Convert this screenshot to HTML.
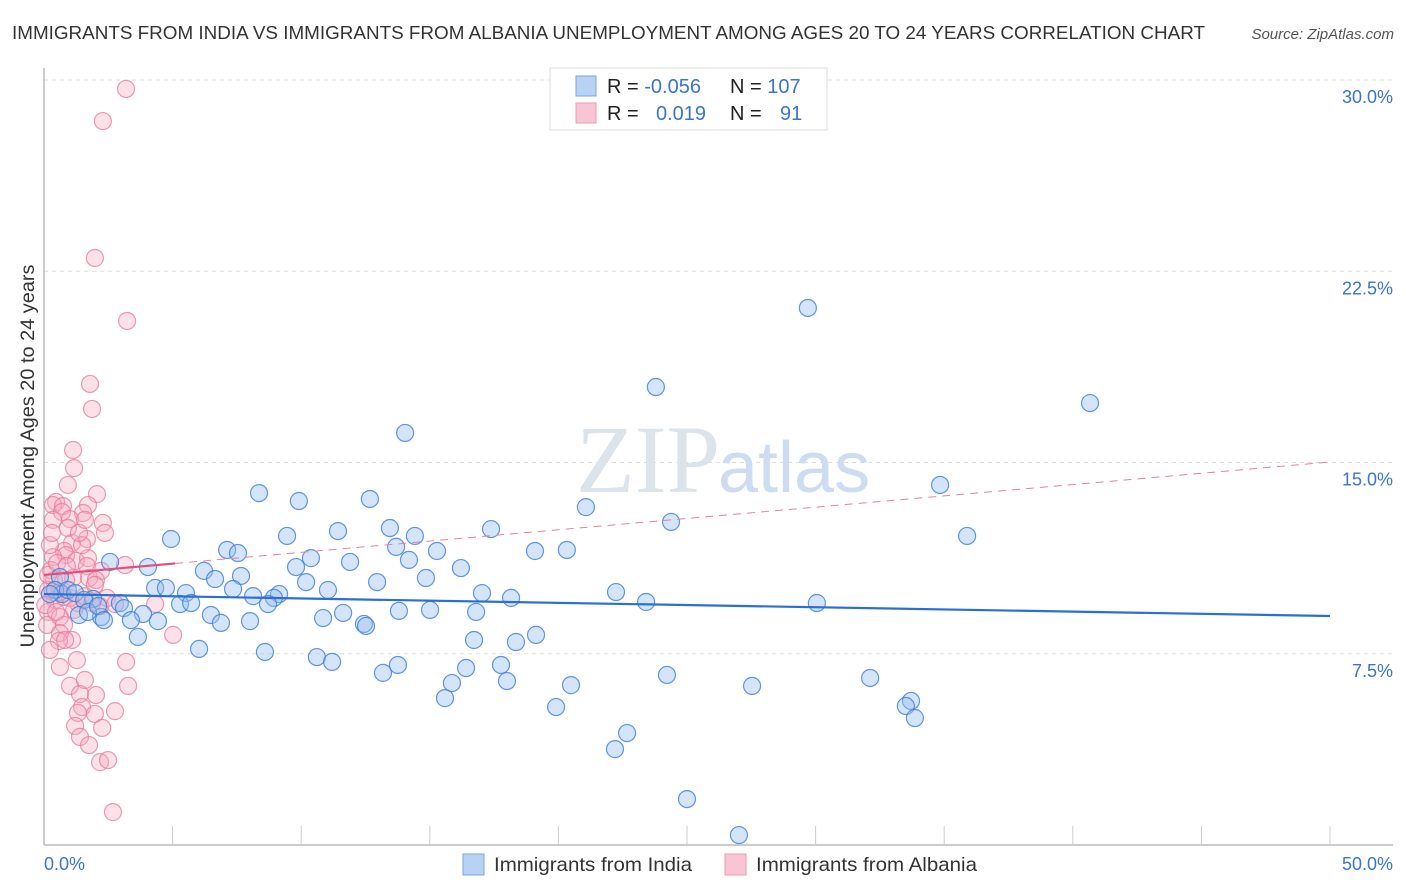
<!DOCTYPE html>
<html><head><meta charset="utf-8">
<style>
body{margin:0;background:#fff;font-family:"Liberation Sans",sans-serif;}
#wrap{position:relative;width:1406px;height:892px;overflow:hidden;}
</style></head>
<body>
<div id="wrap">
<svg id="svg" width="1406" height="892" xmlns="http://www.w3.org/2000/svg">
<text x="12" y="39" font-size="18.5" fill="#333" textLength="1193" lengthAdjust="spacingAndGlyphs">IMMIGRANTS FROM INDIA VS IMMIGRANTS FROM ALBANIA UNEMPLOYMENT AMONG AGES 20 TO 24 YEARS CORRELATION CHART</text>
<text x="1394" y="39" font-size="15" fill="#555" font-style="italic" text-anchor="end">Source: ZipAtlas.com</text>
<text x="34" y="456" font-size="19" fill="#333" text-anchor="middle" textLength="383" lengthAdjust="spacingAndGlyphs" transform="rotate(-90 34 456)">Unemployment Among Ages 20 to 24 years</text>
<g id="grid"></g>
<text x="720" y="492" font-size="96" fill="#dde3ea" text-anchor="end" font-family="Liberation Serif, serif">ZIP</text>
<text x="718" y="492" font-size="72" fill="#cddcf0">atlas</text>
<g id="axes"></g>
<g id="pinkPts"></g>
<g id="bluePts"></g>
<g id="trends"></g>
<g>
<rect x="550" y="68" width="277" height="62" fill="#fff" stroke="#ddd"/>
<rect x="576" y="76" width="20" height="20" fill="#b8d2f4" stroke="#7aa6e0"/>
<rect x="576" y="103" width="20" height="20" fill="#f9c4d3" stroke="#ec9bb3"/>
<text x="607" y="93" font-size="20" fill="#222">R = <tspan fill="#3a74cf">-0.056</tspan></text>
<text x="730" y="93" font-size="20" fill="#222">N = <tspan fill="#3a74cf">107</tspan></text>
<text x="607" y="120" font-size="20" fill="#222">R = <tspan fill="#3a74cf" x="656">0.019</tspan></text>
<text x="730" y="120" font-size="20" fill="#222">N = <tspan fill="#3a74cf" x="780">91</tspan></text>
</g>
<g>
<rect x="463" y="854" width="21" height="21" fill="#b8d2f4" stroke="#7aa6e0"/>
<text x="494" y="871" font-size="19.5" fill="#333" textLength="198" lengthAdjust="spacingAndGlyphs">Immigrants from India</text>
<rect x="725" y="854" width="21" height="21" fill="#f9c4d3" stroke="#ec9bb3"/>
<text x="756" y="871" font-size="19.5" fill="#333" textLength="221" lengthAdjust="spacingAndGlyphs">Immigrants from Albania</text>
</g>
</svg>
</div>
<script>
const xTicksLabels = ["0.0%", "50.0%"];
const yTickValues = [7.5, 15, 22.5, 30];
const yTickLabels = ["7.5%", "15.0%", "22.5%", "30.0%"];
const indiaX = [29.70,23.79,40.67,14.04,34.84,8.36,9.91,12.67,21.07,24.38,17.38,11.43,13.45,35.89,4.94,9.45,14.42,7.12,7.54,13.69,15.28,19.09,20.33,10.38,14.19,11.90,16.21,6.22,4.04,2.57,9.80,7.66,6.65,14.85,12.95,10.19,4.32,4.74,7.35,11.04,22.24,17.03,18.16,8.13,9.14,8.94,5.52,23.41,30.05,2.95,5.29,5.72,1.91,3.11,3.85,6.49,8.71,11.63,15.01,16.80,13.80,2.22,3.38,4.43,6.88,8.01,10.85,12.44,12.52,19.13,16.72,18.35,3.65,6.03,8.59,10.61,11.20,13.76,13.18,17.77,16.41,18.00,24.22,32.12,27.53,20.49,15.86,15.59,19.91,33.71,33.51,33.86,22.67,22.20,25.00,27.02,0.62,0.70,0.43,0.93,1.21,1.56,1.36,1.71,2.10,2.33,0.23];
const indiaY = [21.06,17.96,17.33,16.16,14.12,13.80,13.49,13.57,13.25,12.67,12.39,12.31,12.43,12.12,12.00,12.12,12.12,11.57,11.45,11.69,11.53,11.53,11.57,11.25,11.18,11.10,10.86,10.75,10.90,11.10,10.90,10.55,10.43,10.47,10.31,10.31,10.08,10.08,10.04,10.00,9.92,9.88,9.69,9.76,9.84,9.69,9.88,9.53,9.49,9.49,9.45,9.49,9.65,9.29,9.06,9.02,9.45,9.10,9.22,9.14,9.18,8.94,8.82,8.78,8.71,8.78,8.90,8.67,8.59,8.24,8.04,7.96,8.16,7.69,7.57,7.37,7.18,7.06,6.75,7.06,6.94,6.43,6.67,6.55,6.24,6.27,6.35,5.76,5.41,5.65,5.45,4.98,4.39,3.76,1.80,0.39,10.51,9.84,10.00,10.00,9.88,9.61,9.02,9.14,9.37,8.82,9.84];
const albaniaX = [3.19,2.29,1.98,3.23,1.79,1.87,1.13,1.17,0.93,2.06,0.47,0.35,0.74,1.71,1.52,0.70,1.01,2.29,2.37,0.35,0.93,1.09,1.67,0.78,0.86,1.24,1.71,0.35,1.67,2.22,0.27,0.39,1.13,1.75,2.02,3.15,0.16,0.43,0.78,1.32,1.87,2.18,4.32,0.16,0.62,0.78,0.62,1.09,5.02,0.58,0.16,0.23,0.35,0.62,3.19,1.01,1.59,1.40,2.02,3.27,1.48,1.32,1.98,2.76,1.21,2.26,1.40,1.75,2.18,2.49,2.68,1.48,0.51,0.86,1.59,0.05,0.12,0.47,1.01,0.62,0.89,1.36,1.59,0.31,1.98,1.17,2.45,2.76,0.23,1.28,0.82];
const albaniaY = [29.65,28.39,23.02,20.55,18.08,17.10,15.49,14.78,14.12,13.76,13.45,13.33,13.29,13.33,13.02,13.06,12.78,12.63,12.24,12.75,12.43,11.84,12.00,11.53,11.37,11.14,11.25,11.29,10.94,10.75,10.78,10.39,10.47,10.47,10.39,10.98,10.00,9.61,9.73,9.49,9.49,9.37,9.45,9.14,8.94,8.63,8.31,8.04,8.24,8.00,10.59,11.76,9.92,6.98,7.18,6.24,6.47,5.92,5.88,6.24,5.41,5.18,5.14,5.25,4.67,4.59,4.24,3.92,3.25,3.33,1.29,11.76,11.06,10.39,9.76,9.41,8.63,9.14,9.69,9.92,10.94,12.24,12.75,12.24,10.20,9.22,9.69,9.45,7.65,7.25,8.04];
const indiaTrend = [9.84, 8.98];
const albaniaTrend = [10.59, 15.02];
const albaniaSolidEnd = 5.1;

const X0=44, X1=1330, Y0=845, PXPER=25.5;
const sx = v => X0 + v*(X1-X0)/50;
const sy = v => Y0 - v*PXPER;
const NS="http://www.w3.org/2000/svg";
function mk(tag, attrs, parent){const e=document.createElementNS(NS,tag);for(const k in attrs)e.setAttribute(k,attrs[k]);parent.appendChild(e);return e;}

const grid=document.getElementById('grid');
yTickValues.forEach((v,i)=>{
  const l=mk('line',{x1:X0,x2:1393,y1:sy(v),y2:sy(v),stroke:'#ddd','stroke-dasharray':'4,4'},grid);
  
  
  const t=mk('text',{x:1393,y:sy(v)+23,'font-size':18,fill:'#3a74cf','text-anchor':'end'},grid);
  t.textContent=yTickLabels[i];
  
  
});
const axes=document.getElementById('axes');
let a=mk('line',{x1:X0,x2:X0,y1:68,y2:Y0,stroke:'#bbb','stroke-width':1.5},axes);


a=mk('line',{x1:X0,x2:1393,y1:Y0,y2:Y0,stroke:'#bbb','stroke-width':1.5},axes);


for(let i=1;i<=10;i++){
  const t=mk('line',{x1:sx(i*5),x2:sx(i*5),y1:826,y2:Y0,stroke:'#ccc'},axes);
  
  
}
[[0,'start'],[50,'end']].forEach((p,i)=>{
  const t=mk('text',{x:i?1393:44,y:870,'font-size':18,fill:'#3a74cf','text-anchor':p[1]},axes);
  t.textContent=xTicksLabels[i];
  
  
});

function pts(xs,ys,g,fill,stroke,name){
  xs.forEach((x,i)=>{
    const c=mk('circle',{cx:sx(x),cy:sy(ys[i]),r:8.5,fill:fill,stroke:stroke,'stroke-width':1.2},g);
    
    
  });
}
pts(albaniaX,albaniaY,document.getElementById('pinkPts'),'rgba(246,170,192,0.35)','rgba(232,120,155,0.75)','albania-point');
pts(indiaX,indiaY,document.getElementById('bluePts'),'rgba(150,190,240,0.4)','rgba(60,125,215,0.8)','india-point');

const tr=document.getElementById('trends');
let l=mk('line',{x1:sx(0),y1:sy(indiaTrend[0]),x2:sx(50),y2:sy(indiaTrend[1]),stroke:'#2a6fd6','stroke-width':2.2},tr);


const pY=x=>albaniaTrend[0]+(albaniaTrend[1]-albaniaTrend[0])*x/50;
l=mk('line',{x1:sx(albaniaSolidEnd),y1:sy(pY(albaniaSolidEnd)),x2:sx(50),y2:sy(albaniaTrend[1]),stroke:'#e8809f','stroke-width':1,'stroke-dasharray':'8,6'},tr);


l=mk('line',{x1:sx(0),y1:sy(albaniaTrend[0]),x2:sx(albaniaSolidEnd),y2:sy(pY(albaniaSolidEnd)),stroke:'#e0507a','stroke-width':2.2},tr);


</script>
</body></html>
